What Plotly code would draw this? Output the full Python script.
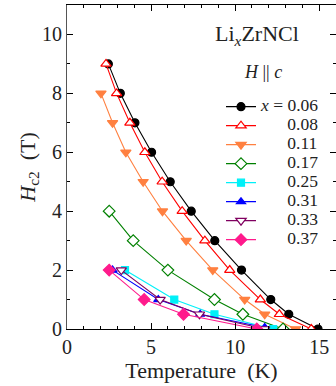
import plotly.graph_objects as go

# ---- data ----
labels = ["0.06", "0.08", "0.11", "0.17", "0.25", "0.31", "0.33", "0.37"]

T_006 = [2.46, 3.17, 4.04, 5.03, 6.14, 7.39, 8.79, 10.38, 12.12, 13.19, 14.93]
H_006 = [9, 8, 7, 6, 5, 4, 3, 2, 1, 0.5, 0]

T_008 = [2.32, 2.95, 3.74, 4.63, 5.66, 6.85, 8.20, 9.68, 11.50, 12.63, 14.53]
H_008 = [9, 8, 7, 6, 5, 4, 3, 2, 1, 0.5, 0]

T_011 = [2.02, 2.71, 3.50, 4.53, 5.68, 7.09, 8.67, 10.57, 11.76, 13.60]
H_011 = [8, 7, 6, 5, 4, 3, 2, 1, 0.5, 0]

T_017 = [2.51, 3.94, 6.00, 8.77, 10.46, 12.85]
H_017 = [4, 3, 2, 1, 0.5, 0]

T_025 = [3.45, 6.38, 8.77, 12.26]
H_025 = [2, 1, 0.5, 0]

T_031 = [2.71, 5.43, 7.92, 11.76]
H_031 = [2, 1, 0.5, 0.05]

T_033 = [3.23, 5.54, 7.88, 11.76]
H_033 = [2, 1, 0.5, 0]

T_037 = [2.51, 4.59, 6.93, 11.29]
H_037 = [2, 1, 0.5, 0]

x_ticks = [0, 5, 10, 15]
y_ticks = [0, 2, 4, 6, 8, 10]

FONT = "Liberation Serif"

series = [
    (T_006, H_006, "#000000", "circle", 8, "#000000"),
    (T_008, H_008, "#ff0000", "triangle-up", 9, "#ffffff"),
    (T_011, H_011, "#ff8040", "triangle-down", 9, "#ff8040"),
    (T_017, H_017, "#008000", "diamond", 9, "#ffffff"),
    (T_025, H_025, "#00f0f8", "square", 7, "#00f0f8"),
    (T_031, H_031, "#0000ff", "triangle-up", 8, "#0000ff"),
    (T_033, H_033, "#800060", "triangle-down", 9, "#ffffff"),
    (T_037, H_037, "#ff1a8c", "diamond", 9, "#ff1a8c"),
]

fig = go.Figure()
pad = "\u00a0" * 6
for i, (xs, ys, col, sym, sz, fill) in enumerate(series):
    if i == 0:
        name = '<span style="font-size:17.5px"><i>x</i> = ' + labels[i] + "</span>"
    else:
        name = '<span style="font-size:17.5px">' + pad + labels[i] + "</span>"
    fig.add_trace(go.Scatter(
        x=xs, y=ys, mode="lines+markers", name=name,
        line=dict(color=col, width=1.1),
        marker=dict(symbol=sym, size=sz, color=fill,
                    line=dict(color=col, width=1.2)),
    ))

fig.update_layout(
    width=336, height=386,
    margin=dict(l=67, r=0, t=5, b=57),
    paper_bgcolor="white", plot_bgcolor="white",
    font=dict(family=FONT, size=20, color="#222"),
    showlegend=True,
    legend=dict(x=0.5725, y=0.731, xanchor="left", yanchor="top",
                bgcolor="rgba(0,0,0,0)", font=dict(size=12, family=FONT, color="#222"),
                itemwidth=30, tracegroupgap=0),
)

fig.update_xaxes(
    range=[0, 16], tickvals=x_ticks, ticktext=[str(v) for v in x_ticks],
    ticks="inside", ticklen=6, tickwidth=1, tickcolor="#000",
    minor=dict(dtick=1, ticks="inside", ticklen=3, tickcolor="#000", tick0=0),
    showline=True, linecolor="#000", linewidth=1.2, mirror="ticks",
    showgrid=False, zeroline=False,
    tickfont=dict(size=20, family=FONT, color="#222"),
    title=dict(text="Temperature\u00a0 (K)", font=dict(size=22, family=FONT, color="#222"), standoff=2),
)
fig.update_yaxes(
    range=[0, 11], tickvals=y_ticks, ticktext=[str(v) for v in y_ticks],
    ticks="inside", ticklen=6, tickwidth=1, tickcolor="#000",
    minor=dict(dtick=1, ticks="inside", ticklen=3, tickcolor="#000", tick0=0),
    showline=True, linecolor="#555", linewidth=1.2, mirror="ticks",
    showgrid=False, zeroline=False,
    tickfont=dict(size=20, family=FONT, color="#222"),
    title=dict(text="<i>H</i><sub>c2</sub>\u00a0 (T)", font=dict(size=22, family=FONT, color="#222"), standoff=0),
)

fig.add_annotation(text="Li<sub><i>x</i></sub>ZrNCl", xref="paper", yref="paper",
                   x=0.706, y=0.907, xanchor="center", yanchor="middle",
                   showarrow=False, font=dict(size=22, family=FONT, color="#222"))
fig.add_annotation(text="<i>H</i> || <i>c</i>", xref="paper", yref="paper",
                   x=0.729, y=0.793, xanchor="center", yanchor="middle",
                   showarrow=False, font=dict(size=18, family=FONT, color="#222"))

fig.write_html("out.html")
